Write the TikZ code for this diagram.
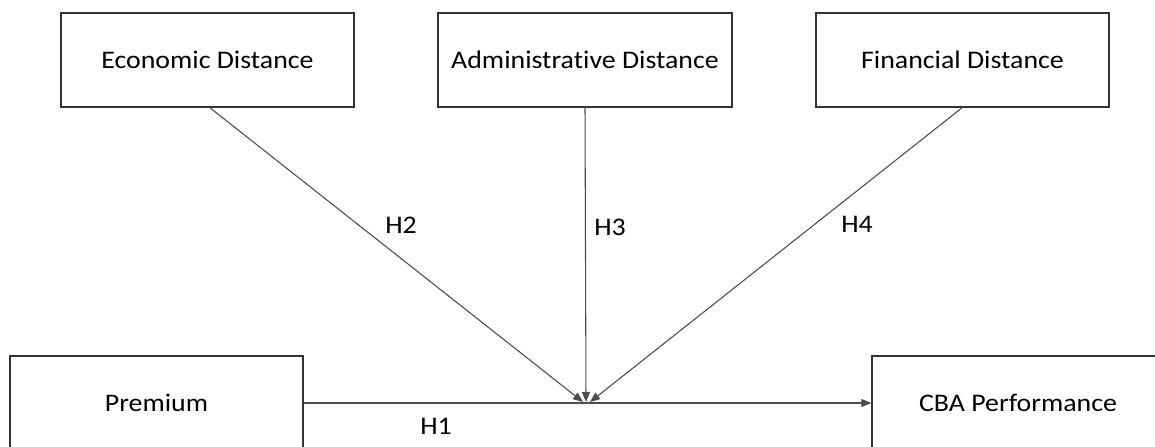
\documentclass[tikz,border=0pt]{standalone}
\usepackage{fontspec}
\setmainfont{Carlito}[FakeStretch=1.1,Ligatures=NoCommon]
\usetikzlibrary{arrows.meta}
\begin{document}
\begin{tikzpicture}[x=0.75pt,y=-0.75pt,
  box/.style={draw=black!80, line width=1.1pt, inner sep=0pt, font=\fontsize{19}{22}\selectfont},
  conn/.style={draw=black!70, line width=0.8pt, -{Triangle[length=7.5pt,width=6pt]}},
  hlab/.style={font=\fontsize{19}{22}\selectfont, inner sep=0pt}]
\useasboundingbox (0,0) rectangle (1155,446);
\clip (0,0) rectangle (1155,446);
\fill[white] (0,0) rectangle (1155,446);
\node[box, minimum width=293*0.75pt, minimum height=94*0.75pt] (eco) at (207.5,60) {Economic Distance};
\node[box, minimum width=294*0.75pt, minimum height=94*0.75pt] (adm) at (585,60) {Administrative Distance};
\node[box, minimum width=293*0.75pt, minimum height=94*0.75pt] (fin) at (962.5,60) {Financial Distance};
\node[box, minimum width=293*0.75pt, minimum height=94*0.75pt] (pre) at (156.5,403) {Premium};
\node[box, minimum width=292*0.75pt, minimum height=94*0.75pt] (cba) at (1018,403) {CBA Performance};
\coordinate (e1) at (209,107);
\coordinate (a1) at (585,107);
\coordinate (f1) at (963,107);
\coordinate (e2) at (583,402);
\coordinate (a2) at (586,402);
\coordinate (f2) at (590,402);
\draw[conn] (e1) -- (e2);
\draw[conn] (a1) -- (a2);
\draw[conn] (f1) -- (f2);
\draw[conn] (pre.east) -- (cba.west);
\node[hlab] (h2) at (401,225) {H2};
\node[hlab] (h3) at (610,227) {H3};
\node[hlab] (h4) at (857,224) {H4};
\node[hlab] (h1) at (436,426) {H1};
\end{tikzpicture}
\end{document}
